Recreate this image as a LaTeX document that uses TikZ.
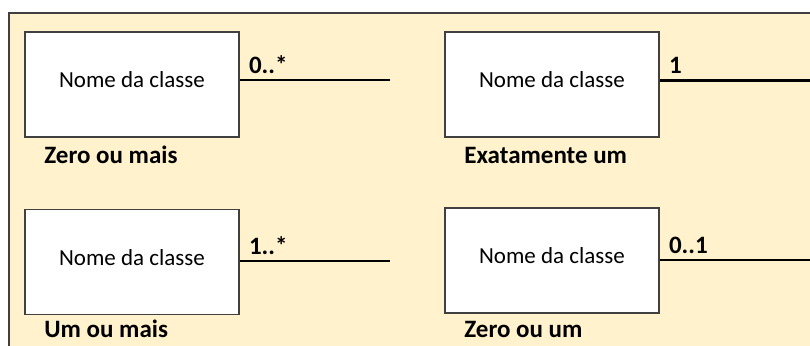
\documentclass[tikz,border=0pt]{standalone}
\usepackage{fontspec}
\setmainfont{Carlito}
\usetikzlibrary{positioning}
\definecolor{panel}{HTML}{FFF2CC}
\definecolor{rim}{HTML}{404040}
\tikzset{
    classbox/.style={draw=rim, line width=1.6pt, fill=white,
        minimum width=214pt, minimum height=105pt, inner sep=0pt},
    classname/.style={font=\fontsize{23}{27}\selectfont, inner sep=0pt},
    assoc/.style={line width=2.8pt, black},
    mult/.style={font=\bfseries\fontsize{25}{30}\selectfont, anchor=base west, inner sep=0pt},
    kindlabel/.style={font=\bfseries\fontsize{25}{30}\selectfont, anchor=base west, inner sep=0pt}
}

\begin{document}
\begin{tikzpicture}[x=1pt,y=-1pt]
    \useasboundingbox (0,0) rectangle (810,345);
    % painel de fundo
    \fill[panel] (9,13) rectangle (812,347);
    \draw[rim, line width=1.3pt] (9,347) -- (9,13) -- (812,13);
    % uma classe por multiplicidade
    \foreach \i/\x/\y/\ly/\ex/\m/\dy/\kind in {%
        1/132/84.5/80/390/0..*/26/Zero ou mais,
        2/552/84.5/80.3/810/1/26/Exatamente um,
        3/132/262/261/390/1..*/22.5/Um ou mais,
        4/552/260.5/260/810/0..1/24/Zero ou um}{%
        \node[classbox] (c\i) at (\x,\y) {};
        \node[classname] (t\i) at ([yshift=4.5pt]c\i.center) {Nome da classe};
        \coordinate (e\i) at (\ex,\ly);
        \draw[assoc] (c\i.east |- e\i) -- (e\i);
        \node[mult] (m\i) at ([xshift=9pt,yshift=7pt]c\i.east |- e\i) {\m};
        \node[kindlabel] (k\i) at ([xshift=20pt,yshift=-\dy pt]c\i.south west) {\kind};
    }
\end{tikzpicture}
\end{document}
